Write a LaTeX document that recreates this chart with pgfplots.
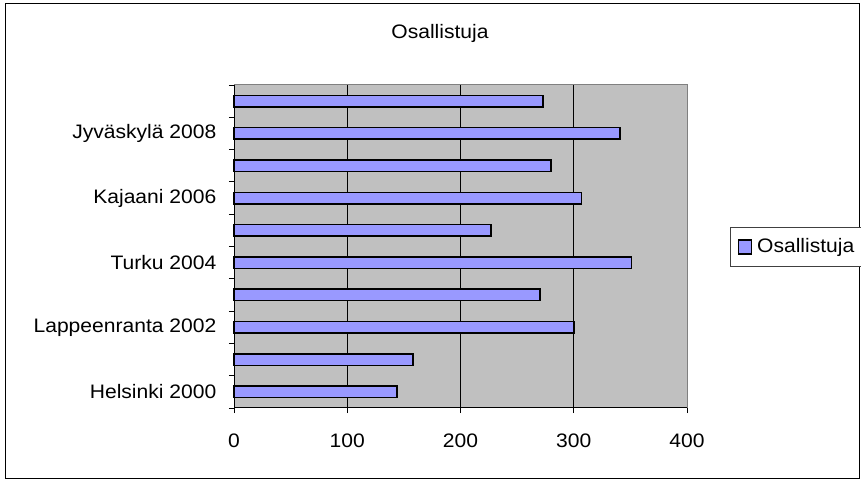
\documentclass[border=0pt]{standalone}
\usepackage{pgfplots}
\pgfplotsset{compat=1.18}
\usepackage{fontspec}
\setmainfont[FakeStretch=1.08]{Liberation Sans}
\definecolor{barfill}{HTML}{9999FF}
\definecolor{plotbg}{HTML}{C0C0C0}
\definecolor{bordergray}{HTML}{808080}
\definecolor{legborder}{HTML}{404040}
\begin{document}
\fontsize{19.5bp}{23bp}\selectfont
\begin{tikzpicture}
\useasboundingbox (0bp,0bp) rectangle (861bp,481bp);
\draw[line width=1bp] (5bp,2bp) rectangle (859bp,477bp);
\node at (440bp,448bp) {Osallistuja};
\begin{axis}[
  at={(234bp,73bp)}, anchor=south west,
  scale only axis, width=453bp, height=323bp,
  xmin=0, xmax=400, ymin=0.5, ymax=10.5,
  /pgf/number format/assume math mode=true,
  axis background/.style={fill=plotbg},
  axis line style={draw=bordergray, line width=1bp},
  xtick={0,100,200,300,400},
  ytick={0.5,1.5,...,10.5},
  yticklabels={},
  extra y ticks={1,3,5,7,9},
  extra y tick labels={Helsinki 2000,Lappeenranta 2002,Turku 2004,Kajaani 2006,Jyväskylä 2008},
  extra y tick style={tick style={draw=none}},
  xtick pos=bottom, ytick pos=left,
  tick align=outside,
  major tick length=5bp,
  tick style={black, line width=0.8bp},
  xmajorgrids,
  grid style={black, line width=0.8bp},
  xticklabel style={yshift=-14bp},
  yticklabel style={xshift=-6bp},
  legend style={at={(axis description cs:1.096,0.4985)}, anchor=west,
    draw=legborder, line width=1bp, fill=white, inner xsep=7bp, inner ysep=9bp,
    nodes={inner xsep=5bp}},
  legend image code/.code={\draw[fill=barfill, draw=black, line width=1.2bp] (0bp,-7bp) rectangle (13bp,7bp);},
  clip=false,
]
\addplot[xbar, bar width=11.5bp, fill=barfill, draw=black, line width=1.5bp]
  coordinates {(144,1) (158,2) (300,3) (270,4) (351,5) (227,6) (307,7) (280,8) (341,9) (273,10)};
\addlegendentry{Osallistuja\hspace{20bp}}
\draw[black, line width=1bp] (rel axis cs:0,1) -- (rel axis cs:0,0) -- (rel axis cs:1,0);
\end{axis}
\end{tikzpicture}
\end{document}
